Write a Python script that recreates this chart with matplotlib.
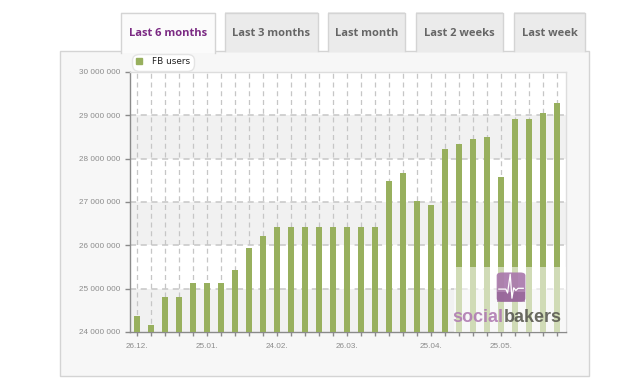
import matplotlib
matplotlib.use("Agg")
import matplotlib.pyplot as plt
from matplotlib.patches import Rectangle, FancyBboxPatch
from matplotlib.lines import Line2D
from matplotlib.ticker import FuncFormatter, FixedLocator

# ---------------- data ----------------
series_name = "FB users"
fb_users = [24.38e6, 24.17e6, 24.80e6, 24.80e6, 25.13e6, 25.13e6, 25.13e6, 25.43e6,
            25.93e6, 26.21e6, 26.43e6, 26.43e6, 26.43e6, 26.43e6, 26.43e6, 26.43e6,
            26.43e6, 26.43e6, 27.49e6, 27.67e6, 27.02e6, 26.92e6, 28.22e6, 28.34e6,
            28.46e6, 28.51e6, 27.57e6, 28.91e6, 28.91e6, 29.05e6, 29.29e6]
date_label_index = [0, 5, 10, 15, 21, 26]
date_labels = ["26.12.", "25.01.", "24.02.", "26.03.", "25.04.", "25.05."]
y_ticks = [24e6, 25e6, 26e6, 27e6, 28e6, 29e6, 30e6]
tab_labels = ["Last 6 months", "Last 3 months", "Last month", "Last 2 weeks", "Last week"]

W, H = 640, 385
BAR = "#98b05e"
GRID = "#c6c6c6"

fig = plt.figure(figsize=(W / 100, H / 100), dpi=100)
fig.patch.set_facecolor("white")

def fx(px):
    return px / W

def fy(py):
    return 1 - py / H

# panel
fig.add_artist(Rectangle((fx(60), fy(376)), fx(529), 325 / H, transform=fig.transFigure,
                         fc="#f7f7f7", ec="#d4d4d4", lw=1.0, zorder=0))

# tabs
tab_pos = [(121, 215), (225, 318), (328, 405), (416, 503), (514, 585)]
for i, (lab, (x0, x1)) in enumerate(zip(tab_labels, tab_pos)):
    active = i == 0
    y0, y1 = 12.5, 51.5 if not active else 52.5
    fig.add_artist(Rectangle((fx(x0), fy(y1)), fx(x1 - x0), (y1 - y0) / H,
                             transform=fig.transFigure,
                             fc="#fbfbfb" if active else "#ebebeb", ec="none", zorder=1))
    fig.add_artist(Line2D([fx(x0), fx(x0), fx(x1), fx(x1)],
                          [fy(y1 if active else 51), fy(y0), fy(y0), fy(y1 if active else 51)],
                          transform=fig.transFigure, color="#d4d4d4", lw=1.0, zorder=2))
    fig.text(fx((x0 + x1) / 2), fy(33), lab, ha="center", va="center",
             fontsize=8, fontweight="bold", family="Open Sans",
             color="#7b2a83" if active else "#666666", zorder=3)

# axes
ax = fig.add_axes([fx(130), fy(332), fx(436), 260 / H])
ax.set_facecolor("white")
ax.set_zorder(2)
x = list(range(len(fb_users)))
ax.set_xlim(-0.5, 30.64)
ax.set_ylim(24e6, 30e6)

# alternating bands
for lo in (24e6, 26e6, 28e6):
    ax.axhspan(lo, lo + 1e6, color="#f1f1f1", zorder=0, lw=0)
# grid
for yv in y_ticks[1:-1]:
    ax.axhline(yv, color=GRID, lw=1.1, dashes=(4, 3), zorder=1)
for xv in x:
    ax.axvline(xv, color=GRID, lw=0.9, dashes=(4, 3), zorder=1)

ax.bar(x, fb_users, width=0.48, color=BAR, zorder=3, label=series_name)

# spines
for s in ("top", "right"):
    ax.spines[s].set_color("#dddddd")
    ax.spines[s].set_linewidth(1.0)
for s in ("left", "bottom"):
    ax.spines[s].set_color("#8a8a8a")
    ax.spines[s].set_linewidth(1.0)

ax.yaxis.set_major_locator(FixedLocator(y_ticks))
ax.yaxis.set_major_formatter(FuncFormatter(lambda v, p: f"{int(v):,}".replace(",", " ")))
ax.xaxis.set_major_locator(FixedLocator(x))
lab_map = dict(zip(date_label_index, date_labels))
ax.set_xticklabels([lab_map.get(i, "") for i in x])
ax.tick_params(axis="y", direction="out", length=3.6, width=1, color="#8a8a8a",
               labelsize=5.9, labelcolor="#8c8c8c", pad=3.6)
ax.tick_params(axis="x", direction="out", length=3.2, width=1, color="#8a8a8a",
               labelsize=5.9, labelcolor="#8c8c8c", pad=4.5)
for t in ax.get_xticklabels() + ax.get_yticklabels():
    t.set_family("Liberation Sans")

# watermark overlay
ax.add_patch(Rectangle((22.65, 24e6), 30.64 - 22.65, 1.5e6, fc="white", alpha=0.55,
                       lw=0, zorder=4))
icon = FancyBboxPatch((0.841, 0.117), 0.066, 0.112, boxstyle="round,pad=0,rounding_size=0.012",
                      transform=ax.transAxes, fc="#a877ab", ec="none", alpha=0.9, zorder=5)
ax.add_patch(icon)
ax.add_patch(Rectangle((0.841, 0.117), 0.066, 0.035, transform=ax.transAxes,
                       fc="#8d5a90", ec="none", alpha=0.6, zorder=5))
hx = [0.846, 0.862, 0.866, 0.872, 0.876, 0.880, 0.885, 0.890, 0.902]
hy = [0.165, 0.165, 0.150, 0.222, 0.130, 0.170, 0.160, 0.168, 0.168]
ax.plot(hx, hy, transform=ax.transAxes, color="white", lw=0.9, zorder=6)
t_b = ax.text(0.99, 0.04, "bakers", transform=ax.transAxes, ha="right", va="baseline",
              fontsize=13, fontweight="bold", family="Liberation Sans",
              color="#5b5b52", alpha=0.9, zorder=6)
ax.annotate("social", xy=(0, 0), xycoords=t_b, ha="right", va="bottom",
            fontsize=13, fontweight="bold", family="Liberation Sans",
            color="#b07cb2", alpha=0.9, zorder=6)

# legend
leg = ax.legend(handles=[Line2D([], [], marker="s", ls="none", color=BAR, markersize=4.2)],
                labels=[series_name], loc="center",
                bbox_to_anchor=(fx(163), fy(62)), bbox_transform=fig.transFigure,
                fontsize=6.4, frameon=True, fancybox=True, framealpha=1,
                handlelength=0.8, handletextpad=1.0, borderpad=0.45, borderaxespad=0)
leg.get_frame().set_edgecolor("#e4e4e4")
leg.get_frame().set_facecolor("white")
leg.get_frame().set_boxstyle("round,pad=0,rounding_size=0.75")
leg.set_zorder(10)
for t in leg.get_texts():
    t.set_color("#222222")

fig.savefig("out.png", dpi=100)
